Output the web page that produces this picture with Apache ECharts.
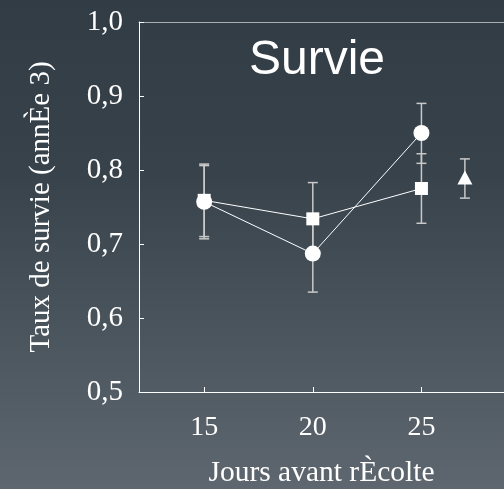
<!DOCTYPE html>
<html>
<head>
<meta charset="utf-8">
<script src="https://cdn.jsdelivr.net/npm/echarts@6/dist/echarts.min.js"></script>
<style>
  html, body { margin: 0; padding: 0; }
  #chart { width: 504px; height: 489px; }
</style>
</head>
<body>
<div id="chart"></div>
<script>
// Survival rate (year 3) by days before harvest
const days = [15, 20, 25];
const circleRate = [0.757, 0.687, 0.850];
const circleLow = [0.707, 0.635, 0.809];
const circleHigh = [0.808, 0.739, 0.890];
const squareRate = [0.759, 0.734, 0.775];
const squareLow = [0.710, 0.685, 0.728];
const squareHigh = [0.806, 0.783, 0.822];
const triDays = [27];
const triRate = [0.790];
const triLow = [0.762];
const triHigh = [0.815];
const xTicks = [15, 20, 25];

const serif = '"Liberation Serif", "Times New Roman", serif';
const sans = '"Liberation Sans", Arial, sans-serif';

function pairs(xs, ys) { return xs.map((x, i) => [x, ys[i]]); }
function triples(xs, lo, hi) { return xs.map((x, i) => [x, lo[i], hi[i]]); }

function errorBar(params, api) {
  const x = api.value(0);
  const lo = api.coord([x, api.value(1)]);
  const hi = api.coord([x, api.value(2)]);
  const half = 5;
  const style = { stroke: '#c9c9c9', lineWidth: 1.5 };
  return {
    type: 'group',
    children: [
      { type: 'line', shape: { x1: lo[0], y1: lo[1], x2: hi[0], y2: hi[1] }, style },
      { type: 'line', shape: { x1: lo[0] - half, y1: lo[1], x2: lo[0] + half, y2: lo[1] }, style },
      { type: 'line', shape: { x1: hi[0] - half, y1: hi[1], x2: hi[0] + half, y2: hi[1] }, style }
    ]
  };
}

const chart = echarts.init(document.getElementById('chart'), null, { renderer: 'canvas' });
chart.setOption({
  animation: false,
  backgroundColor: {
    type: 'linear', x: 0, y: 0, x2: 0, y2: 1,
    colorStops: [
      { offset: 0, color: '#323c45' },
      { offset: 0.35, color: '#37424b' },
      { offset: 1, color: '#5e676f' }
    ]
  },
  grid: { left: 139, top: 22, right: 0, bottom: 97, containLabel: false, outerBoundsMode: 'none' },
  graphic: [{
    type: 'text', x: 317, y: 61,
    style: { text: 'Survie', fill: '#ffffff', font: '48px ' + sans, textAlign: 'center', textVerticalAlign: 'middle' }
  }],
  xAxis: [{
    type: 'value', min: 12, max: 28.8,
    name: 'Jours avant rÈcolte', nameLocation: 'middle', nameGap: 66,
    nameTextStyle: { color: '#ffffff', fontFamily: serif, fontSize: 29.5 },
    axisLine: { show: true, onZero: false, lineStyle: { color: '#ffffff', width: 1 } },
    axisTick: { show: true, inside: true, length: 5, customValues: xTicks, lineStyle: { color: '#ffffff' } },
    axisLabel: { customValues: xTicks, color: '#ffffff', fontFamily: serif, fontSize: 28, margin: 22 },
    splitLine: { show: false }
  }, {
    type: 'value', position: 'top', min: 12, max: 28.8,
    axisLine: { show: true, onZero: false, lineStyle: { color: '#a9adb0', width: 1.2 } },
    axisTick: { show: false }, axisLabel: { show: false }, splitLine: { show: false }
  }],
  yAxis: {
    type: 'value', min: 0.5, max: 1.0, interval: 0.1,
    name: 'Taux de survie (annÈe 3)', nameLocation: 'middle', nameGap: 83,
    nameTextStyle: { color: '#ffffff', fontFamily: serif, fontSize: 29 },
    axisLine: { show: true, onZero: false, lineStyle: { color: '#ffffff', width: 1 } },
    axisTick: { show: true, inside: true, length: 5, lineStyle: { color: '#ffffff' } },
    axisLabel: {
      color: '#ffffff', fontFamily: serif, fontSize: 29, margin: 16,
      formatter: v => v.toFixed(1).replace('.', ',')
    },
    splitLine: { show: false }
  },
  series: [
    { type: 'custom', renderItem: errorBar, data: triples(days, squareLow, squareHigh), z: 1 },
    { type: 'custom', renderItem: errorBar, data: triples(days, circleLow, circleHigh), z: 1 },
    { type: 'custom', renderItem: errorBar, data: triples(triDays, triLow, triHigh), z: 1 },
    {
      type: 'line', data: pairs(days, squareRate), symbol: 'rect', symbolSize: 13,
      lineStyle: { color: '#ffffff', width: 1 }, itemStyle: { color: '#ffffff' }, z: 3
    },
    {
      type: 'line', data: pairs(days, circleRate), symbol: 'circle', symbolSize: 16,
      lineStyle: { color: '#ffffff', width: 1 }, itemStyle: { color: '#ffffff' }, z: 4
    },
    {
      type: 'scatter', data: pairs(triDays, triRate), symbol: 'triangle', symbolSize: [15, 14],
      itemStyle: { color: '#ffffff', opacity: 1 }, z: 4
    }
  ]
});
</script>
</body>
</html>
